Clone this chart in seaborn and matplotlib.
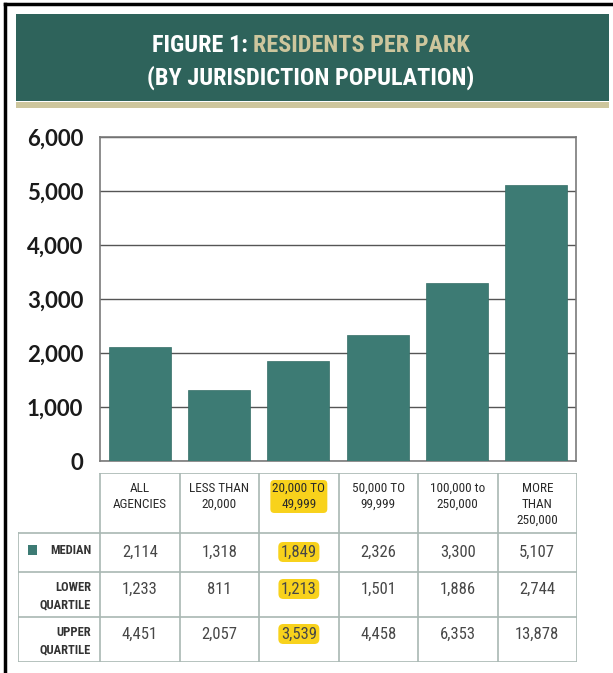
import numpy as np
import pandas as pd
import matplotlib
matplotlib.use("Agg")
import matplotlib.pyplot as plt
from matplotlib.patches import Rectangle
from matplotlib.lines import Line2D
from matplotlib.ticker import FuncFormatter
import seaborn as sns

# -------------------------
# data
# -------------------------
categories = ["ALL\nAGENCIES", "LESS THAN\n20,000", "20,000 TO\n49,999",
              "50,000 TO\n99,999", "100,000 to\n250,000", "MORE\nTHAN\n250,000"]
median = [2114, 1318, 1849, 2326, 3300, 5107]
lower_quartile = [1233, 811, 1213, 1501, 1886, 2744]
upper_quartile = [4451, 2057, 3539, 4458, 6353, 13878]
row_labels = ["MEDIAN", "LOWER\nQUARTILE", "UPPER\nQUARTILE"]
highlight_idx = 2
y_ticks = [0, 1000, 2000, 3000, 4000, 5000, 6000]

BAR = "#3d7b74"
BANNER = "#2e635b"
TAN = "#cdc69d"
HILITE = "#f8d21c"
TABLE_LINE = "#a9b7b3"
NARROW = ["Roboto Condensed", "Liberation Sans Narrow", "Roboto", "DejaVu Sans"]

W, H = 613, 673
fig = plt.figure(figsize=(W / 100, H / 100), dpi=100)
fig.patch.set_facecolor("white")


def fx(px):
    return px / W


def fy(py):
    return 1 - py / H


# -------------------------
# frame and banner
# -------------------------
fig.add_artist(Line2D([fx(5), fx(613)], [fy(4), fy(4)], color="black", lw=2.5))
fig.add_artist(Line2D([fx(5), fx(5)], [fy(4), fy(673)], color="black", lw=2.5))
fig.add_artist(Rectangle((fx(16), fy(101)), fx(593), 87 / H, facecolor=BANNER,
                         edgecolor="none", transform=fig.transFigure))
fig.add_artist(Rectangle((fx(16), fy(108)), fx(593), 6 / H, facecolor=TAN,
                         edgecolor="none", transform=fig.transFigure))

title_kw = dict(fontsize=17.5, fontweight="black", family=NARROW, va="center")
t1 = fig.text(0, fy(46), "FIGURE 1: ", color="white", ha="left", **title_kw)
t2 = fig.text(0, fy(46), "RESIDENTS PER PARK", color=TAN, ha="left", **title_kw)
fig.text(fx(311), fy(78), "(BY JURISDICTION POPULATION)", color="white",
         ha="center", **title_kw)
r = fig.canvas.get_renderer()
w1 = t1.get_window_extent(r).width
w2 = t2.get_window_extent(r).width
x0 = 311 - (w1 + w2) / 2
t1.set_x(fx(x0))
t2.set_x(fx(x0 + w1))

# -------------------------
# bars
# -------------------------
ax = fig.add_axes([fx(100), fy(461), fx(476), 324 / H])
df = pd.DataFrame({"cat": categories, "median": median})
sns.barplot(data=df, x="cat", y="median", color=BAR, width=0.78, saturation=1,
            edgecolor="#356e67", linewidth=0.5, ax=ax, zorder=3)
ax.set_ylim(0, 6000)
ax.set_xlim(-0.5, len(categories) - 0.5)
ax.set_yticks(y_ticks)
ax.yaxis.set_major_formatter(FuncFormatter(lambda v, p: f"{int(v):,}"))
for lab in ax.get_yticklabels():
    lab.set_fontfamily("Lato")
    lab.set_fontweight("bold")
ax.tick_params(axis="y", length=0, pad=12, labelsize=16, labelcolor="#1a1a1a")
ax.set_xticks([])
ax.set_xlabel("")
ax.set_ylabel("")
ax.grid(axis="y", color="#555555", lw=1, zorder=0)
ax.set_axisbelow(True)
for s in ax.spines.values():
    s.set_color("#7a7a7a")
    s.set_linewidth(1.2)

# -------------------------
# table
# -------------------------
tab = fig.add_axes([fx(18), fy(662), fx(559), 189 / H])
col_px = 476 / 6
lab_w = 82 / col_px
tab.set_xlim(-0.5 - lab_w, len(categories) - 0.5)
tab.set_ylim(662, 473)
tab.axis("off")

rows_y = [473, 533, 572, 617, 662]
n = len(categories)
left_all = -0.5 - lab_w
tab.plot([-0.5, n - 0.5], [473, 473], color=TABLE_LINE, lw=1.2)
for yy in rows_y[1:]:
    tab.plot([left_all, n - 0.5], [yy, yy], color=TABLE_LINE, lw=1.2)
tab.plot([left_all, left_all], [533, 662], color=TABLE_LINE, lw=1.2)
for i in range(n + 1):
    tab.plot([i - 0.5, i - 0.5], [473, 662], color=TABLE_LINE, lw=1.2)

hl = dict(boxstyle="round,pad=0.15,rounding_size=0.3", facecolor=HILITE,
          edgecolor="none")
for i, cat in enumerate(categories):
    tab.text(i, 482, cat, ha="center", va="top", fontsize=9.5, family=NARROW,
             color="#2a2a2a", linespacing=1.3,
             bbox=hl if i == highlight_idx else None)

row_y = [552, 589, 634]
series = [median, lower_quartile, upper_quartile]
for vals, yy in zip(series, row_y):
    for i, v in enumerate(vals):
        tab.text(i, yy, f"{v:,}", ha="center", va="center", fontsize=12,
                 family=NARROW, color="#474747",
                 bbox=hl if i == highlight_idx else None)

label_x = -0.5 - 9 / col_px
tab.text(label_x, 550, row_labels[0], ha="right", va="center", fontsize=9,
         fontweight="bold", family=NARROW, color="#333333")
for lab, top in zip(row_labels[1:], [581, 626]):
    tab.text(label_x, top, lab, ha="right", va="top", fontsize=9,
             fontweight="bold", family=NARROW, color="#333333",
             linespacing=1.4, multialignment="right")
# legend square for median
tab.add_patch(Rectangle((left_all + 10 / col_px, 545), 9 / col_px, 10,
                        facecolor=BAR, edgecolor="none"))

fig.savefig("out.png", dpi=100)
